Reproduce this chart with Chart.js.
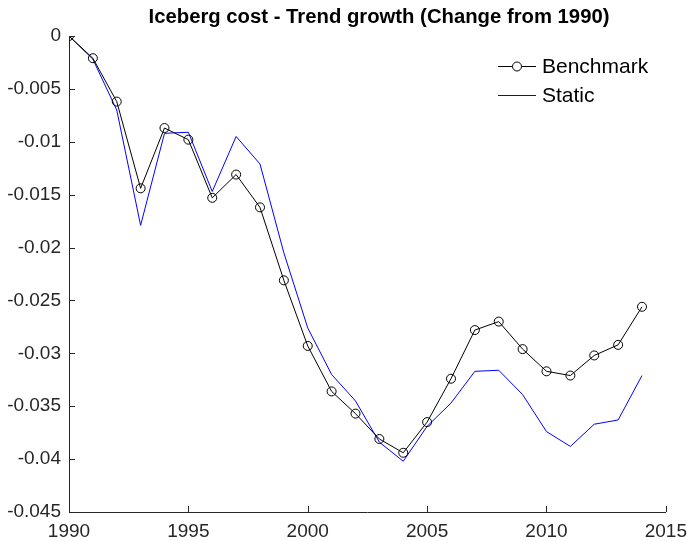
<!DOCTYPE html>
<html>
<head>
<meta charset="utf-8">
<title>Iceberg cost - Trend growth</title>
<script src="https://cdn.jsdelivr.net/npm/chart.js@4.4.1/dist/chart.umd.min.js"></script>
<style>
  html, body { margin: 0; padding: 0; background: #fff; }
  #wrap { width: 695px; height: 541px; }
</style>
</head>
<body>
<div id="wrap"><canvas id="costChart" width="695" height="541"></canvas></div>
<script>
// Change in iceberg cost relative to 1990
const years = [1990, 1991, 1992, 1993, 1994, 1995, 1996, 1997, 1998, 1999,
  2000, 2001, 2002, 2003, 2004, 2005, 2006, 2007, 2008, 2009,
  2010, 2011, 2012, 2013, 2014];

const benchmark = [0, -0.0021, -0.0062, -0.0144, -0.0087, -0.0098, -0.0153, -0.0131, -0.0162, -0.0231,
  -0.0293, -0.0336, -0.0357, -0.0381, -0.0394, -0.0365, -0.0324, -0.0278, -0.0270, -0.0296,
  -0.0317, -0.0321, -0.0302, -0.0292, -0.0256];

const staticCase = [0, -0.0022, -0.0070, -0.0179, -0.0092, -0.0091, -0.0147, -0.0095, -0.0121, -0.0205,
  -0.0276, -0.0320, -0.0345, -0.0384, -0.0402, -0.0369, -0.0347, -0.0317, -0.0316, -0.0339,
  -0.0374, -0.0388, -0.0367, -0.0363, -0.0321];

const xTicks = [1990, 1995, 2000, 2005, 2010, 2015];
const yTicks = [0, -0.005, -0.01, -0.015, -0.02, -0.025, -0.03, -0.035, -0.04, -0.045];

const titleText = 'Iceberg cost - Trend growth (Change from 1990)';
const AXIS = '#262626';
const BENCH_COLOR = '#000000';
const STATIC_COLOR = '#0000ff';
const FONT = '"Liberation Sans", Arial, Helvetica, sans-serif';

const toPoints = arr => years.map((yr, i) => ({ x: yr, y: arr[i] }));

const legendItems = [
  { label: 'Benchmark', color: BENCH_COLOR, marker: true },
  { label: 'Static', color: STATIC_COLOR, marker: false }
];

// inward tick marks, title and legend drawn on top of the chart
const decorations = {
  id: 'decorations',
  afterDraw(chart) {
    const { ctx, chartArea, scales } = chart;
    const xs = scales.x, ys = scales.y;
    ctx.save();
    ctx.strokeStyle = AXIS;
    ctx.lineWidth = 1;
    ctx.beginPath();
    xTicks.forEach(v => {
      const px = Math.round(xs.getPixelForValue(v)) + 0.5;
      ctx.moveTo(px, chartArea.bottom);
      ctx.lineTo(px, chartArea.bottom - 6);
    });
    yTicks.forEach(v => {
      const py = Math.round(ys.getPixelForValue(v)) + 0.5;
      ctx.moveTo(chartArea.left, py);
      ctx.lineTo(chartArea.left + 6, py);
    });
    ctx.stroke();

    // title
    ctx.fillStyle = '#000';
    ctx.font = 'bold 20.3px ' + FONT;
    ctx.textAlign = 'center';
    ctx.textBaseline = 'middle';
    ctx.fillText(titleText, 379, 17);

    // legend: sample line, optional marker, label
    ctx.textAlign = 'left';
    ctx.font = '21px ' + FONT;
    legendItems.forEach((item, i) => {
      const y = 66 + i * 29;
      ctx.fillStyle = item.color;
      ctx.fillRect(498, y, 38, 1);
      if (item.marker) {
        ctx.beginPath();
        ctx.arc(517, y + 0.5, 4.5, 0, Math.PI * 2);
        ctx.fillStyle = '#fff';
        ctx.fill();
        ctx.strokeStyle = item.color;
        ctx.lineWidth = 1;
        ctx.stroke();
      }
      ctx.fillStyle = '#000';
      ctx.fillText(item.label, 542, y + 1.5);
    });
    ctx.restore();
  }
};

new Chart(document.getElementById('costChart'), {
  type: 'line',
  data: {
    datasets: [
      {
        label: 'Benchmark',
        data: toPoints(benchmark),
        borderColor: BENCH_COLOR,
        borderWidth: 1,
        pointRadius: 4.5,
        pointBorderWidth: 1,
        pointBackgroundColor: 'rgba(0,0,0,0)',
        pointBorderColor: BENCH_COLOR,
        tension: 0,
        order: 1
      },
      {
        label: 'Static',
        data: toPoints(staticCase),
        borderColor: STATIC_COLOR,
        borderWidth: 1,
        pointRadius: 0,
        tension: 0,
        order: 2
      }
    ]
  },
  options: {
    responsive: false,
    animation: false,
    events: [],
    layout: { padding: { top: 36, right: 22, bottom: 0, left: 0 } },
    plugins: {
      legend: { display: false },
      title: { display: false },
      tooltip: { enabled: false }
    },
    scales: {
      x: {
        type: 'linear',
        min: 1990,
        max: 2015,
        afterBuildTicks: scale => { scale.ticks = xTicks.map(v => ({ value: v })); },
        afterFit: scale => { scale.height = 29; },
        grid: { display: false, drawTicks: false },
        border: { display: true, color: AXIS, width: 1 },
        ticks: {
          color: AXIS,
          padding: 8,
          maxRotation: 0,
          font: { family: FONT, size: 19 },
          callback: v => String(v)
        }
      },
      y: {
        type: 'linear',
        min: -0.045,
        max: 0,
        afterBuildTicks: scale => { scale.ticks = yTicks.map(v => ({ value: v })); },
        afterFit: scale => { scale.width = 69; },
        grid: { display: false, drawTicks: false },
        border: { display: true, color: AXIS, width: 1 },
        ticks: {
          color: AXIS,
          padding: 8,
          font: { family: FONT, size: 19 },
          callback: v => String(parseFloat(Number(v).toFixed(3)))
        }
      }
    }
  },
  plugins: [decorations]
});
</script>
</body>
</html>
